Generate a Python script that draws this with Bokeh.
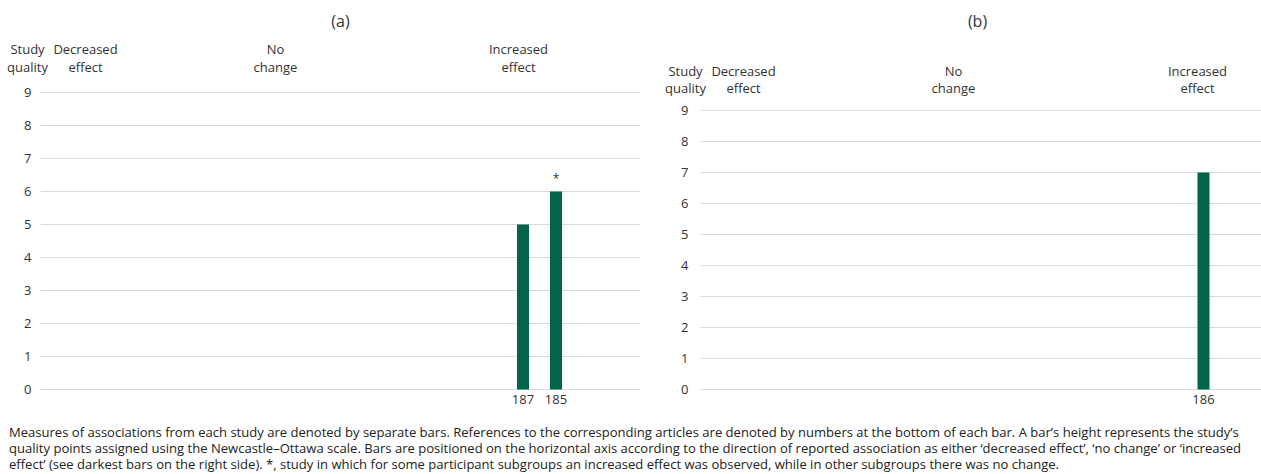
from bokeh.plotting import figure
from bokeh.models import Range1d, FixedTicker, Label, Div, ColumnDataSource
from bokeh.layouts import row, column
from bokeh.embed import file_html
from bokeh.resources import INLINE
from bokeh.core.properties import value

# ---------------- data ----------------
directions = ["Decreased effect", "No change", "Increased effect"]
quality_ticks = [0, 1, 2, 3, 4, 5, 6, 7, 8, 9]
axis_title = ["Study", "quality"]

a_refs = ["187", "185"]
a_direction = ["Increased effect", "Increased effect"]
a_quality = [5, 6]
a_mixed = [False, True]

b_refs = ["186"]
b_direction = ["Increased effect"]
b_quality = [7]
b_mixed = [False]

caption_lines = [
    "Measures of associations from each study are denoted by separate bars. References to the corresponding articles are denoted by numbers at the bottom of each bar. A bar\u2019s height represents the study\u2019s",
    "quality points assigned using the Newcastle\u2013Ottawa scale. Bars are positioned on the horizontal axis according to the direction of reported association as either \u2018decreased effect\u2019, \u2018no change\u2019 or \u2018increased",
    "effect\u2019 (see darkest bars on the right side). *, study in which for some participant subgroups an increased effect was observed, while in other subgroups there was no change.",
]

FONT = "Open Sans"
TXT = "#333333"
BAR = "#02654a"
GRID = "#d9d9d9"
TOTAL_H = 412
ZERO_Y = 389   # page y of the zero line


def panel(title, refs, dirs, quality, mixed, fig_w, border_left, ppu,
          group_x, bar_off, bar_step, head_h, head_y1, head_y2, title_x,
          label_standoff, study_x):
    frame_w = fig_w - border_left
    # ---- header strip (titles + column headings) ----
    h = figure(width=fig_w, height=head_h, output_backend="svg",
               toolbar_location=None, x_axis_type=None, y_axis_type=None,
               x_range=Range1d(-border_left, frame_w),
               y_range=Range1d(head_h, 0),
               min_border_left=0, min_border_right=0, min_border_top=0,
               min_border_bottom=0, frame_align=False)
    h.outline_line_color = None
    h.xgrid.grid_line_color = None
    h.ygrid.grid_line_color = None

    def lab(x, y, t, size="13px"):
        h.add_layout(Label(x=x, y=y, text=t, text_align="center",
                           text_baseline="middle", text_font=FONT,
                           text_font_size=size, text_color=TXT))

    lab(title_x, 20, title, "16px")
    lab(study_x, head_y1, axis_title[0])
    lab(study_x, head_y2, axis_title[1])
    for d in directions:
        w1, w2 = d.split(" ")
        lab(group_x[d], head_y1, w1)
        lab(group_x[d], head_y2, w2)

    # ---- main chart ----
    main_h = TOTAL_H - head_h
    frame_h = main_h - 22
    zero_px = ZERO_Y - head_h
    y0 = -(frame_h - zero_px) / ppu
    y1 = zero_px / ppu
    p = figure(width=fig_w, height=main_h, output_backend="svg",
               toolbar_location=None, x_range=Range1d(0, frame_w),
               y_range=Range1d(y0, y1), min_border_left=border_left,
               min_border_right=0, min_border_top=0, min_border_bottom=22,
               frame_align=False)
    p.outline_line_color = None

    counts = {}
    xs = []
    for d in dirs:
        i = counts.get(d, 0)
        xs.append(group_x[d] + bar_off + i * bar_step)
        counts[d] = i + 1
    src = ColumnDataSource(dict(x=xs, q=quality, ref=refs,
                                star=["*" if m else "" for m in mixed]))
    p.vbar(x="x", top="q", bottom=0, width=12, source=src,
           fill_color=BAR, line_color=None)
    p.text(x="x", y="q", text="star", source=src, text_align="center",
           text_baseline="bottom", y_offset=-5, text_font=value(FONT),
           text_font_size="12px", text_color=TXT)

    p.xgrid.grid_line_color = None
    p.ygrid.grid_line_color = GRID
    p.ygrid.grid_line_width = 1
    p.yaxis.ticker = FixedTicker(ticks=quality_ticks)
    p.yaxis.axis_line_color = None
    p.yaxis.major_tick_line_color = None
    p.yaxis.minor_tick_line_color = None
    p.yaxis.major_tick_out = 0
    p.yaxis.major_tick_in = 0
    p.yaxis.minor_tick_out = 0
    p.yaxis.major_label_standoff = label_standoff
    p.yaxis.major_label_text_font = FONT
    p.yaxis.major_label_text_font_size = "13px"
    p.yaxis.major_label_text_color = TXT

    p.xaxis.ticker = FixedTicker(ticks=xs)
    p.xaxis.major_label_overrides = {x: r for x, r in zip(xs, refs)}
    p.xaxis.axis_line_color = None
    p.xaxis.major_tick_line_color = None
    p.xaxis.minor_tick_line_color = None
    p.xaxis.major_tick_out = 0
    p.xaxis.major_tick_in = 0
    p.xaxis.minor_tick_out = 0
    p.xaxis.major_label_standoff = 4
    p.xaxis.major_label_text_font = FONT
    p.xaxis.major_label_text_font_size = "13px"
    p.xaxis.major_label_text_color = TXT
    return column(h, p, spacing=0)


pa = panel("(a)", a_refs, a_direction, a_quality, a_mixed,
           fig_w=640, border_left=40, ppu=33,
           group_x={"Decreased effect": 45, "No change": 235, "Increased effect": 478},
           bar_off=4.5, bar_step=33, head_h=82, head_y1=48, head_y2=66,
           title_x=300, label_standoff=9, study_x=-13)

pb = panel("(b)", b_refs, b_direction, b_quality, b_mixed,
           fig_w=621, border_left=60, ppu=31,
           group_x={"Decreased effect": 43, "No change": 253, "Increased effect": 497},
           bar_off=6, bar_step=33, head_h=100, head_y1=70, head_y2=87,
           title_x=277, label_standoff=12, study_x=-15)

cap_html = ('<div style="font-family:\'Open Sans\';font-size:13.05px;'
            'line-height:16px;white-space:nowrap;color:#222222;'
            'padding-left:4px;">' + "<br>".join(caption_lines) + '</div>')
cap = Div(text=cap_html, width=1261, height=56,
          styles={"margin-top": "12px", "overflow": "hidden"})

layout = column(row(pa, pb, spacing=0), cap, spacing=0)
open("out.html", "w").write(file_html(layout, INLINE))
